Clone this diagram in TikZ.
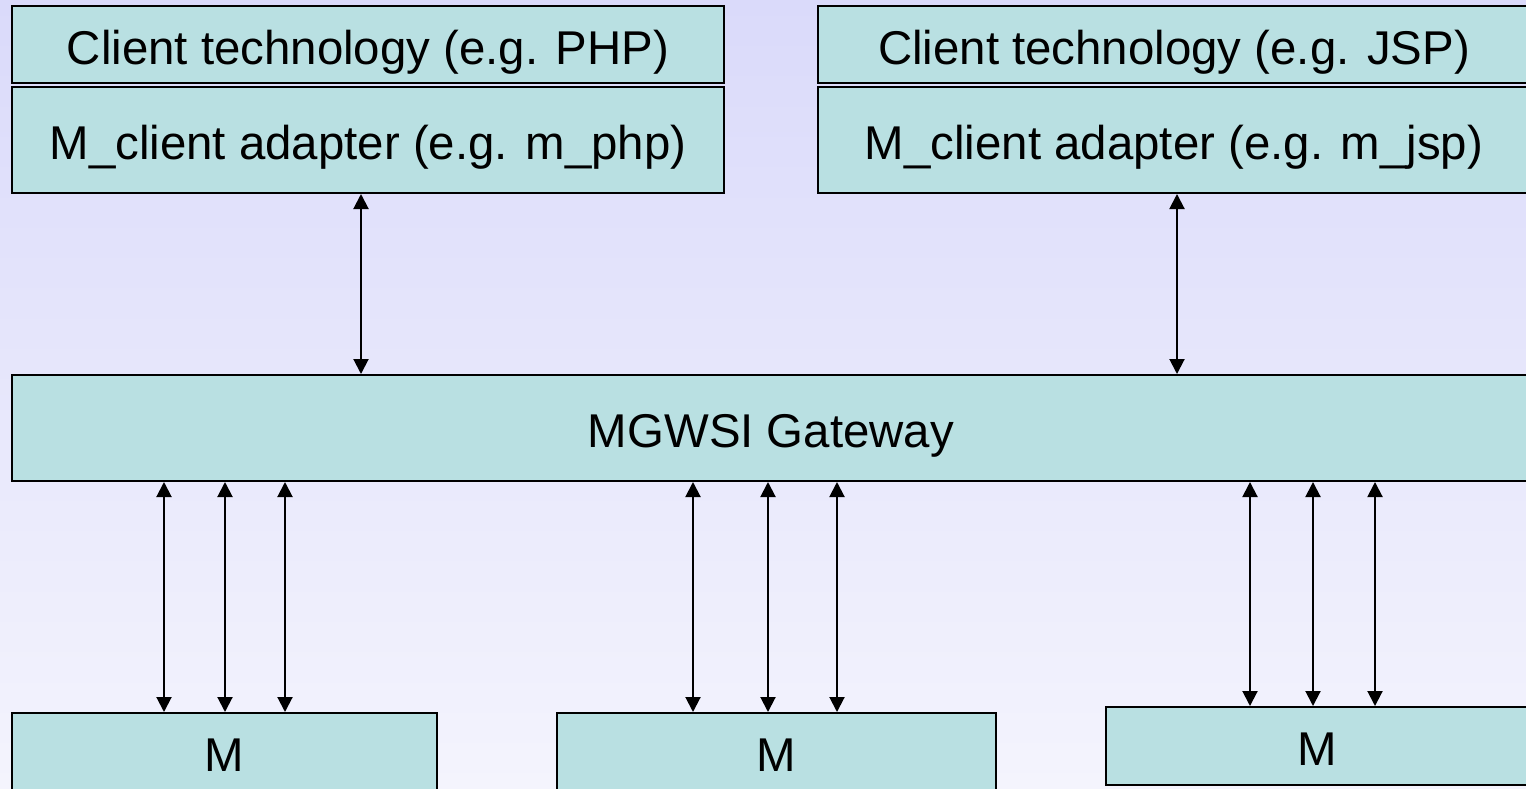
\documentclass[tikz,border=0pt]{standalone}
\usepackage{fontspec}
\setmainfont{Liberation Sans}
\usetikzlibrary{arrows.meta}

\definecolor{boxfill}{RGB}{185,224,226}
\definecolor{bgtop}{RGB}{218,218,250}
\definecolor{bgbottom}{RGB}{244,244,253}

\tikzset{
  layer/.style={draw=black, line width=2pt, fill=boxfill, inner sep=0pt,
    text height=39pt, text depth=0pt, font=\fontsize{47.4}{56}\selectfont},
  link/.style={{Triangle[width=15pt,length=15pt]}-{Triangle[width=15pt,length=15pt]}, line width=2pt}
}

\begin{document}
\begin{tikzpicture}[x=1pt, y=-1pt]
		% Frame and background
		\clip (0,0) rectangle (1526,788);
		\shade[top color=bgtop, bottom color=bgbottom] (0,0) rectangle (1526,788);

		% Client side
		\node[layer, minimum width=712pt, minimum height=77pt] (php) at (368,44.5) {Client technology (e.g. PHP)};
		\node[layer, minimum width=712pt, minimum height=106pt] (phpadapter) at (368,140) {M\_client adapter (e.g. m\_php)};
		\node[layer, minimum width=712pt, minimum height=77pt] (jsp) at (1174,44.5) {Client technology (e.g. JSP)};
		\node[layer, minimum width=712pt, minimum height=106pt] (jspadapter) at (1174,140) {M\_client adapter (e.g. m\_jsp)};

		% Gateway
		\node[layer, minimum width=1518pt, minimum height=106pt] (gateway) at (771,428) {MGWSI Gateway};

		% M systems
		\node[layer, minimum width=425pt, minimum height=78pt] (m1) at (224.5,752) {M};
		\node[layer, minimum width=439pt, minimum height=78pt] (m2) at (776.5,752) {M};
		\node[layer, minimum width=422pt, minimum height=78pt] (m3) at (1317,746) {M};

		% Links
		\draw[link] ([xshift=-7pt]phpadapter.south) -- ([xshift=-7pt]phpadapter.south |- gateway.north);
		\draw[link] ([xshift=3pt]jspadapter.south) -- ([xshift=3pt]jspadapter.south |- gateway.north);
		\foreach \x in {164,225,285}
			\draw[link] (gateway.south -| \x,0) -- (m1.north -| \x,0);
		\foreach \x in {693,768,837}
			\draw[link] (gateway.south -| \x,0) -- (m2.north -| \x,0);
		\foreach \x in {1250,1313,1375}
			\draw[link] (gateway.south -| \x,0) -- (m3.north -| \x,0);
	\end{tikzpicture}
\end{document}
